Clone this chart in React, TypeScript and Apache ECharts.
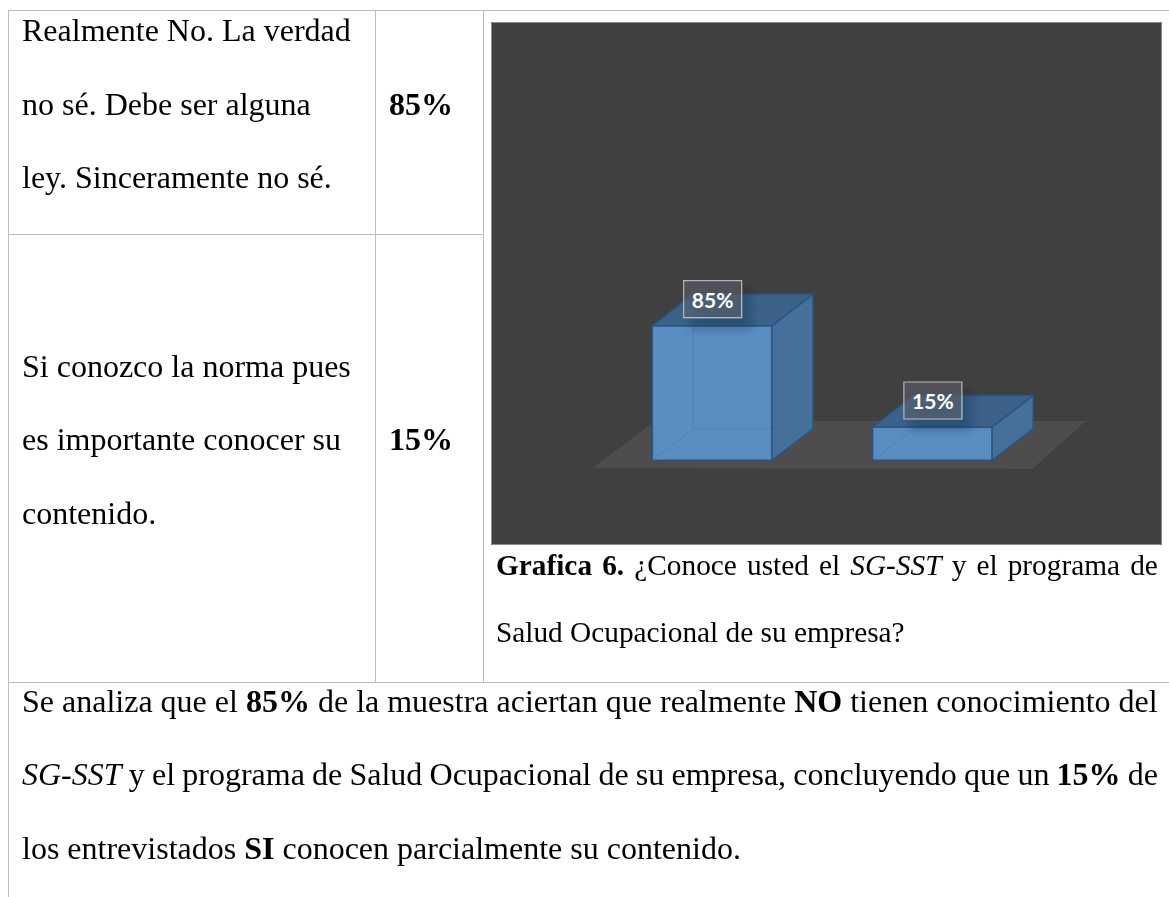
import React, { useEffect, useRef } from "react";
import * as echarts from "echarts";

// ---- Data ----
const categories = ["No", "Si"];
const values = [85, 15];
const valueLabels = ["85%", "15%"];
const AXIS_MIN = -8;
const AXIS_MAX = 100;

const row1Lines = ["Realmente No. La verdad", "no sé. Debe ser alguna", "ley. Sinceramente no sé."];
const row1Value = "85%";
const row2Lines = ["Si conozco la norma pues", "es importante conocer su", "contenido."];
const row2Value = "15%";

const SERIF = '"Liberation Serif", serif';
const BODY = 32;
const CAPTION = 29.33;
const K = 2; // text is laid out at size/K then scaled, so the serif face is kept
const DYT = 1; // small vertical nudge for all text

type Seg = [string, "n" | "b" | "i"];

const captionLine1: Seg[] = [["Grafica 6.", "b"], ["¿Conoce usted el", "n"], ["SG-SST", "i"], ["y el programa de", "n"]];
const para1: Seg[] = [
  ["Se analiza que el", "n"],
  ["85%", "b"],
  ["de la muestra aciertan que realmente", "n"],
  ["NO", "b"],
  ["tienen conocimiento del", "n"],
];
const para2: Seg[] = [
  ["SG-SST", "i"],
  ["y el programa de Salud Ocupacional de su empresa, concluyendo que un", "n"],
  ["15%", "b"],
  ["de", "n"],
];

function segStyle(k: "n" | "b" | "i"): React.CSSProperties {
  return {
    fontWeight: k === "b" ? 700 : 400,
    fontStyle: k === "i" ? "italic" : "normal",
  };
}

type LineProps = {
  x: number;
  baseline: number;
  size: number;
  children: React.ReactNode;
};

function Line({ x, baseline, size, children }: LineProps) {
  const s = size / K;
  return (
    <div
      style={{
        position: "absolute",
        left: x,
        top: baseline + DYT - 0.8375 * size,
        fontSize: s,
        lineHeight: `${s}px`,
        fontFamily: SERIF,
        fontWeight: 400,
        fontStyle: "normal",
        color: "#000",
        whiteSpace: "nowrap",
        transform: `scale(${K})`,
        transformOrigin: "0 0",
      }}
    >
      {children}
    </div>
  );
}

function JLine({ x, baseline, size, width, segs }: { x: number; baseline: number; size: number; width: number; segs: Seg[] }) {
  const s = size / K;
  const words: { w: string; k: "n" | "b" | "i" }[] = [];
  segs.forEach(([t, k]) => t.split(" ").forEach((w) => w && words.push({ w, k })));
  return (
    <div
      style={{
        position: "absolute",
        left: x,
        top: baseline + DYT - 0.8375 * size,
        width: width / K,
        height: s,
        display: "flex",
        justifyContent: "space-between",
        fontSize: s,
        lineHeight: `${s}px`,
        fontFamily: SERIF,
        color: "#000",
        whiteSpace: "nowrap",
        transform: `scale(${K})`,
        transformOrigin: "0 0",
      }}
    >
      {words.map((o, i) => (
        <span key={i} style={segStyle(o.k)}>
          {o.w}
        </span>
      ))}
    </div>
  );
}

const BORDER = "#bdbdbd";
function HLine({ x, y, w }: { x: number; y: number; w: number }) {
  return <div style={{ position: "absolute", left: x, top: y, width: w, height: 1.3, background: BORDER }} />;
}
function VLine({ x, y, h }: { x: number; y: number; h: number }) {
  return <div style={{ position: "absolute", left: x, top: y, width: 1.3, height: h, background: BORDER }} />;
}

function Chart() {
  const ref = useRef<HTMLDivElement>(null);
  useEffect(() => {
    if (!ref.current) return;
    const chart = echarts.init(ref.current, undefined, { renderer: "svg" });
    const DX = 41;
    const DY = -31.5;
    const edge = "#285684";

    const floorRender = (params: any, api: any) => {
      const cs = params.coordSys;
      const gL = cs.x;
      const gR = cs.x + cs.width;
      const base = api.coord([0, AXIS_MIN])[1];
      return {
        type: "polygon",
        shape: {
          points: [
            [gL - 10, base + 8],
            [gR - 10, base + 8.5],
            [gR + 43.3, base - 39.3],
            [gL + 53, base - 39.3],
          ],
        },
        style: { fill: "#4e4c4c" },
        silent: true,
      };
    };

    const barRender = (params: any, api: any) => {
      const idx = api.value(0);
      const v = api.value(1);
      const p = api.coord([idx, v]);
      const cx = p[0];
      const top = p[1];
      const base = api.coord([idx, AXIS_MIN])[1];
      const w = api.size([1, 0])[0] * 0.543;
      const x0 = cx - w / 2;
      const x1 = cx + w / 2;
      const faint = "rgba(40,95,150,0.22)";
      const ly = top - 26.5;
      return {
        type: "group",
        children: [
          {
            type: "rect",
            shape: { x: x0, y: top, width: w, height: base - top },
            style: { fill: "#5a8dc1", stroke: edge, lineWidth: 1.5 },
          },
          {
            type: "polygon",
            shape: { points: [[x1, top], [x1 + DX, top + DY], [x1 + DX, base + DY], [x1, base]] },
            style: { fill: "#45709a", stroke: edge, lineWidth: 1.5, lineJoin: "round" },
          },
          {
            type: "polygon",
            shape: { points: [[x0, top], [x1, top], [x1 + DX, top + DY], [x0 + DX, top + DY]] },
            style: { fill: "#3c6289", stroke: edge, lineWidth: 1.5, lineJoin: "round" },
          },
          {
            type: "polyline",
            shape: { points: [[x0, base], [x0 + DX, base + DY], [x1 + DX, base + DY]] },
            style: { fill: "none", stroke: faint, lineWidth: 1 },
          },
          {
            type: "line",
            shape: { x1: x0 + DX, y1: base + DY, x2: x0 + DX, y2: top + DY },
            style: { stroke: faint, lineWidth: 1 },
          },
          {
            type: "rect",
            shape: { x: cx + 0.5 - 29, y: ly - 18.5, width: 58, height: 37 },
            style: {
              fill: "rgba(95,100,108,0.5)",
              stroke: "rgba(200,200,200,0.85)",
              lineWidth: 1.2,
              shadowColor: "rgba(15,35,60,0.55)",
              shadowBlur: 10,
              shadowOffsetX: 8,
              shadowOffsetY: 10,
            },
          },
          {
            type: "text",
            style: {
              text: valueLabels[idx],
              x: cx + 0.5,
              y: ly,
              fill: "#ffffff",
              font: "bold 21px Lato, 'Open Sans', sans-serif",
              align: "center",
              verticalAlign: "middle",
              textAlign: "center",
              textVerticalAlign: "middle",
            },
          },
        ],
      };
    };

    chart.setOption({
      animation: false,
      backgroundColor: "#404040",
      grid: { left: 111, right: 119.5, top: 282, bottom: 84.7 },
      xAxis: { type: "category", data: categories, show: false },
      yAxis: { type: "value", min: AXIS_MIN, max: AXIS_MAX, show: false },
      graphic: [
        {
          type: "rect",
          shape: { x: 0.5, y: 0.5, width: 670, height: 522 },
          style: { fill: "none", stroke: "#8c8c8c", lineWidth: 1 },
          silent: true,
          z: 100,
        },
      ],
      series: [
        { type: "custom", name: "floor", data: [[0, AXIS_MIN]], renderItem: floorRender, z: 1, silent: true },
        {
          type: "custom",
          name: "bars",
          data: values.map((v, i) => [i, v]),
          renderItem: barRender,
          z: 2,
        },
      ],
    });
    return () => chart.dispose();
  }, []);
  return <div ref={ref} style={{ position: "absolute", left: 491, top: 22, width: 671, height: 523 }} />;
}

export default function App() {
  const L = 73.4;
  return (
    <div
      style={{
        position: "absolute",
        left: 0,
        top: 0,
        width: 1169,
        height: 897,
        overflow: "hidden",
        background: "#fff",
      }}
    >
      {/* table borders */}
      <HLine x={8} y={10} w={1161} />
      <VLine x={8} y={10} h={887} />
      <VLine x={375} y={10} h={673} />
      <VLine x={483} y={10} h={673} />
      <HLine x={8} y={233.5} w={476} />
      <HLine x={8} y={682} w={1161} />

      {/* row 1 */}
      {row1Lines.map((t, i) => (
        <Line key={"r1" + i} x={21.5} baseline={41 + i * L} size={BODY}>
          {t}
        </Line>
      ))}
      <Line x={389} baseline={114.5} size={BODY}>
        <b>{row1Value}</b>
      </Line>

      {/* row 2 */}
      {row2Lines.map((t, i) => (
        <Line key={"r2" + i} x={21.5} baseline={376.7 + i * L} size={BODY}>
          {t}
        </Line>
      ))}
      <Line x={389} baseline={450} size={BODY}>
        <b>{row2Value}</b>
      </Line>

      <Chart />

      {/* caption */}
      <JLine x={496} baseline={574.5} size={CAPTION} width={662} segs={captionLine1} />
      <Line x={496} baseline={641.7} size={CAPTION}>
        Salud Ocupacional de su empresa?
      </Line>

      {/* analysis paragraph */}
      <JLine x={21.5} baseline={711.7} size={BODY} width={1136} segs={para1} />
      <JLine x={21.5} baseline={785} size={BODY} width={1136} segs={para2} />
      <Line x={21.5} baseline={858.3} size={BODY}>
        los entrevistados <b>SI</b> conocen parcialmente su contenido.
      </Line>
    </div>
  );
}
